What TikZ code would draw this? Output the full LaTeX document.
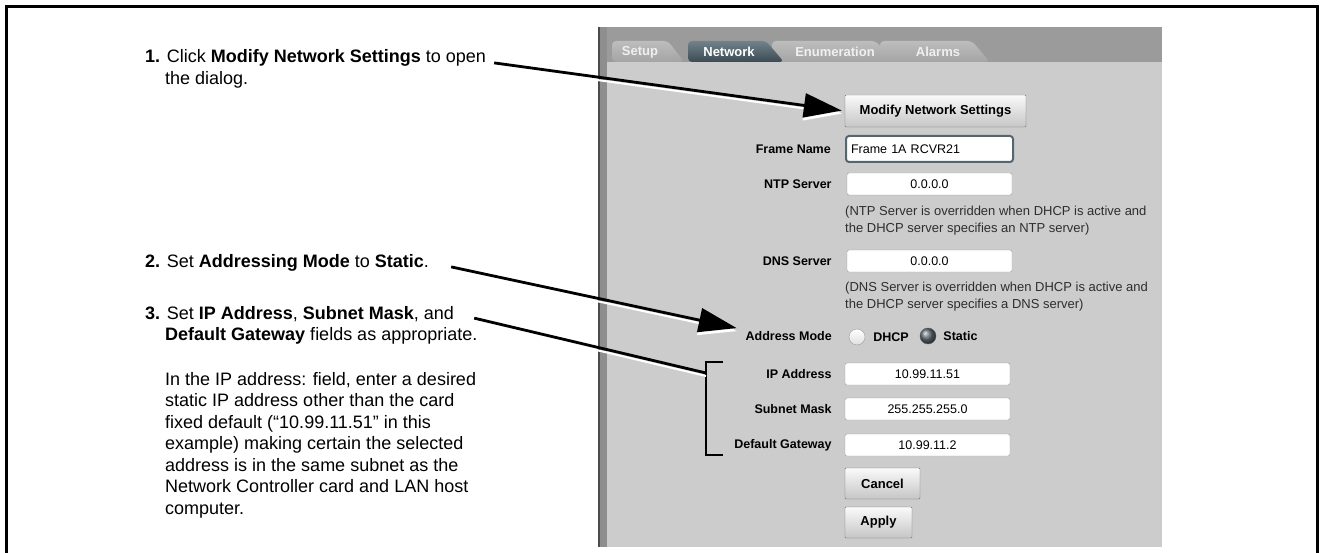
\documentclass[tikz,border=0pt]{standalone}
\usepackage{fontspec}
\setmainfont{Liberation Sans}
\usepackage{tikz}
\usetikzlibrary{arrows.meta}
\usetikzlibrary{positioning}

\definecolor{panelgrey}{HTML}{CCCCCC}
\definecolor{bandgrey}{HTML}{9B9B9B}
\definecolor{edgegrey}{HTML}{8E8E8E}
\definecolor{tabtop}{HTML}{BDBDBD}
\definecolor{tabbot}{HTML}{A4A4A4}
\definecolor{seltop}{HTML}{71828A}
\definecolor{selbot}{HTML}{3C4B53}
\definecolor{focusrim}{HTML}{56666F}
\definecolor{notegrey}{HTML}{2E2E2E}

\begin{document}
\begin{tikzpicture}[x=1pt,y=-1pt,every node/.style={inner sep=0pt},
  stepline/.style={anchor=base west,font=\fontsize{18}{21.5}\selectfont},
  tablabel/.style={font=\fontsize{13}{15}\selectfont\bfseries,text=white!88!gray},
  fieldlabel/.style={anchor=east,font=\fontsize{12.5}{15}\selectfont\bfseries},
  field/.style={draw=gray!80,fill=white,rounded corners=2pt,minimum width=165pt,minimum height=22pt,font=\fontsize{12.5}{15}\selectfont},
  button/.style={draw=gray!90!black,top color=white!96!gray,bottom color=gray!45,rounded corners=1pt,minimum height=31pt,font=\fontsize{13}{15}\selectfont\bfseries},
  note/.style={anchor=north west,align=left,text=notegrey,font=\fontsize{13}{17}\selectfont},
  radio/.style={circle,draw=gray!80,minimum size=16pt},
  leadline/.style={line width=2.8pt},
  pointer/.style={leadline,-{Triangle[length=38pt,width=24pt]}},
  glint/.style={white,line width=2pt,transform canvas={yshift=-3pt}}]
  \fill[white] (0,0) rectangle (1321,553);
  \useasboundingbox (0,0) rectangle (1321,553);
  \draw[line width=3pt] (6.5,600) |- (1317,7) -- (1317,600);

  \fill[panelgrey] (598,27) rectangle (1162,547);
  \fill[bandgrey] (598,27) rectangle (1162,62);
  \fill[edgegrey] (598,27) rectangle (607,547);
  \draw[gray!60!black,line width=1.5pt] (599,27) -- (599,547);

  \shade[top color=tabtop,bottom color=tabbot,rounded corners=4pt] (880,62) -- (880,41) -- (972,41) -- (990,62) -- cycle;
  \shade[top color=tabtop,bottom color=tabbot,rounded corners=4pt] (772,62) -- (772,41) -- (876,41) -- (893,62) -- cycle;
  \shade[top color=tabtop,bottom color=tabbot,rounded corners=4pt] (612,62) -- (612,41) -- (668,41) -- (684,62) -- cycle;
  \shade[top color=seltop,bottom color=selbot,rounded corners=4pt] (688,62) -- (688,41) -- (766,41) -- (784,62) -- cycle;
  \node[tablabel] (setup) at (640,52) {Setup};
  \node[tablabel,text=white] (network) at (729,52) {Network};
  \node[tablabel] (enum) at (835,52) {Enumeration};
  \node[tablabel] (alarms) at (938,52) {Alarms};

  \node[button,minimum width=181pt,minimum height=32pt] (modify) at (935.5,111) {Modify Network Settings};
  \node[field,draw=focusrim,line width=2pt,rounded corners=3pt,minimum width=167pt,minimum height=26pt,text width=157pt,align=left] (fname) at (929.5,149) {Frame 1A RCVR21};
  \node[field] (ntp) at (929.5,184) {0.0.0.0};
  \node[field] (dns) at (929.5,261) {0.0.0.0};
  \node[field] (ip) at (927.5,374) {10.99.11.51};
  \node[field] (mask) at (927.5,409) {255.255.255.0};
  \node[field] (gw) at (927.5,445) {10.99.11.2};
  \node[fieldlabel,left=14pt of fname] {Frame Name};
  \node[fieldlabel,left=15pt of ntp] {NTP Server};
  \node[fieldlabel,left=15pt of dns] {DNS Server};
  \node[fieldlabel] (amode) at (832,336) {Address Mode};
  \node[fieldlabel,left=13pt of ip] {IP Address};
  \node[fieldlabel,left=13pt of mask] {Subnet Mask};
  \node[fieldlabel,left=13pt of gw] {Default Gateway};
  \node[note] (ntpnote) at (845,206) {(NTP Server is overridden when DHCP is active and\\the DHCP server specifies an NTP server)};
  \node[note] (dnsnote) at (845,282) {(DNS Server is overridden when DHCP is active and\\the DHCP server specifies a DNS server)};
  \node[radio,top color=white,bottom color=gray!25] (dhcp) at (857,337) {};
  \node[radio,draw=gray!70!black,ball color=selbot!80!white] (static) at (928,336) {};
  \node[fieldlabel,anchor=west,right=8pt of dhcp] {DHCP};
  \node[fieldlabel,anchor=west,right=7pt of static] {Static};
  \node[button,minimum width=75pt] (cancel) at (882.5,483.5) {Cancel};
  \node[button,minimum width=67pt] (apply) at (878.5,522.5) {Apply};

  \draw[line width=2.5pt] (723,362) -| (706,455) -- (723,455);
  \coordinate (brk) at (706,373);

  \node[stepline] (s1) at (145,63) {\textbf{1.} Click \textbf{Modify Network Settings} to open};
  \node[stepline] (s1b) at (165,84.5) {the dialog.};
  \node[stepline] (s2) at (145,267) {\textbf{2.} Set \textbf{Addressing Mode} to \textbf{Static}.};
  \node[stepline] (s3) at (145,319) {\textbf{3.} Set \textbf{IP Address}, \textbf{Subnet Mask}, and};
  \node[stepline] (s3b) at (165,340.5) {\textbf{Default Gateway} fields as appropriate.};
  \node[stepline,anchor=north west,align=left] (s3c) at (165,372) {In the IP address: field, enter a desired\\static IP address other than the card\\fixed default (“10.99.11.51” in this\\example) making certain the selected\\address is in the same subnet as the\\Network Controller card and LAN host\\computer.};

  \coordinate (from1) at ([xshift=8pt,yshift=-4.5pt]s1.east);
  \coordinate (from2) at ([xshift=22pt,yshift=-4.5pt]s2.east);
  \coordinate (from3) at ([xshift=20pt,yshift=-4.5pt]s3.east);
  \draw[pointer,glint,shorten >=3pt] (from1) -- (modify.west);
  \draw[pointer,glint,shorten >=9pt] (from2) -- ([yshift=6pt]amode.west);
  \draw[leadline,glint] (from3) -- (brk);
  \draw[pointer,shorten >=3pt] (from1) -- (modify.west);
  \draw[pointer,shorten >=9pt] (from2) -- ([yshift=6pt]amode.west);
  \draw[leadline] (from3) -- (brk);
\end{tikzpicture}
\end{document}
